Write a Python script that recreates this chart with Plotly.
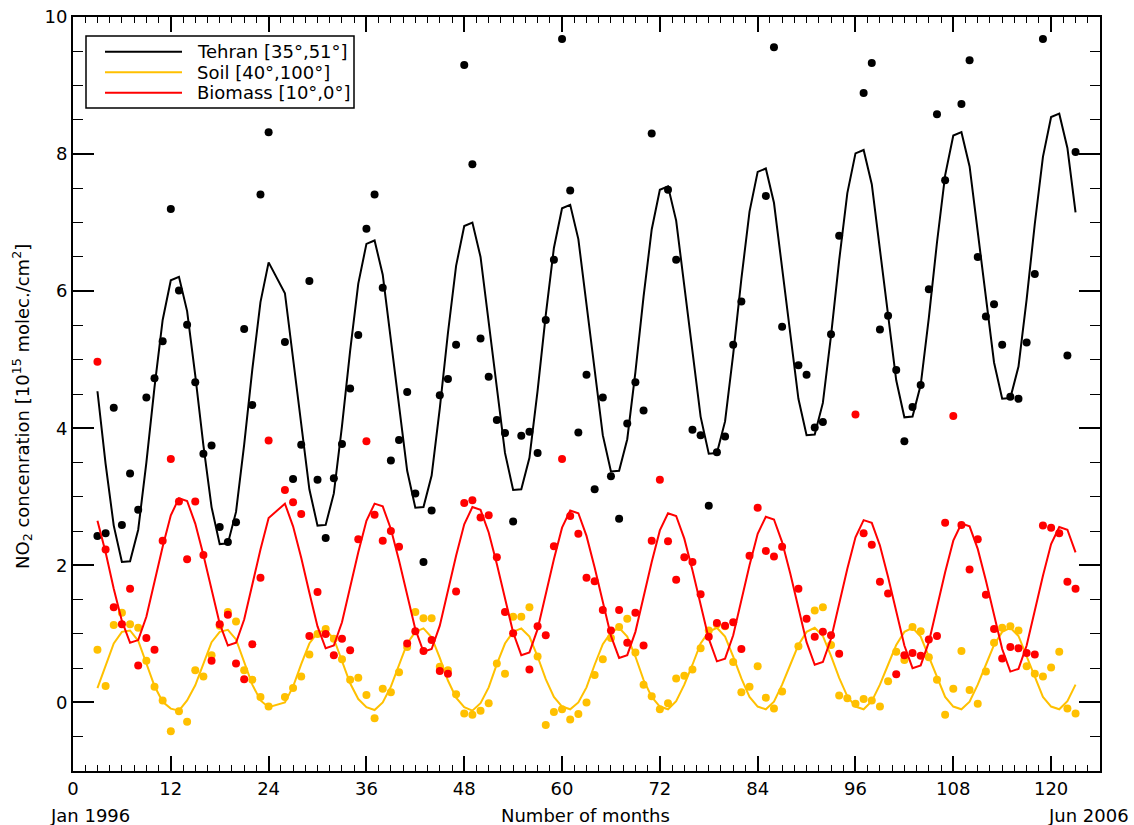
import plotly.graph_objects as go

# months since Jan 1996
months = list(range(3, 124))

# fitted curves, rows: months 3-14, 15-26, ...
tehran_fit = [
    4.54, 3.48, 2.58, 2.05, 2.06, 2.52, 3.50, 4.60, 5.58, 6.16, 6.21, 5.71,
    4.77, 3.75, 2.85, 2.31, 2.32, 2.78, 3.76, 4.86, 5.84, 6.42, None, 5.97,
    5.03, 4.01, 3.11, 2.58, 2.59, 3.05, 4.03, 5.13, 6.11, 6.69, 6.74, 6.24,
    5.30, 4.28, 3.38, 2.84, 2.85, 3.31, 4.29, 5.39, 6.37, 6.95, 7.00, 6.50,
    5.56, 4.54, 3.64, 3.10, 3.11, 3.57, 4.55, 5.65, 6.63, 7.21, 7.26, 6.76,
    5.82, 4.80, 3.90, 3.37, 3.38, 3.84, 4.82, 5.92, 6.90, 7.48, 7.53, 7.03,
    6.09, 5.07, 4.17, 3.63, 3.64, 4.10, 5.08, 6.18, 7.16, 7.74, 7.79, 7.29,
    6.35, 5.33, 4.43, 3.90, 3.91, 4.37, 5.35, 6.45, 7.43, 8.01, 8.06, 7.56,
    6.62, 5.60, 4.70, 4.16, 4.17, 4.63, 5.61, 6.71, 7.69, 8.27, 8.32, 7.82,
    6.88, 5.86, 4.96, 4.43, 4.44, 4.90, 5.88, 6.98, 7.96, 8.54, 8.59, 8.09,
    7.15,
]
soil_fit = [
    0.21, 0.55, 0.86, 1.03, 1.05, 0.90, 0.58, 0.24, 0.01, -0.09, -0.12, 0.03,
    0.25, 0.58, 0.88, 1.03, 1.06, 0.92, 0.60, 0.26, 0.03, -0.07, None, 0.00,
    0.23, 0.56, 0.86, 1.02, 1.06, 0.93, 0.62, 0.28, 0.05, -0.07, -0.11, 0.00,
    0.23, 0.56, 0.86, 1.03, 1.08, 0.95, 0.65, 0.32, 0.07, -0.07, -0.12, -0.01,
    0.22, 0.56, 0.86, 1.03, 1.08, 0.96, 0.67, 0.34, 0.08, -0.06, -0.10, 0.00,
    0.22, 0.55, 0.85, 1.02, 1.09, 0.96, 0.67, 0.33, 0.08, -0.06, -0.10, 0.02,
    0.26, 0.55, 0.86, 1.03, 1.09, 0.96, 0.67, 0.35, 0.08, -0.06, -0.10, 0.01,
    0.26, 0.55, 0.84, 1.03, 1.09, 0.97, 0.68, 0.36, 0.09, -0.06, -0.10, 0.02,
    0.26, 0.55, 0.84, 1.03, 1.09, 0.96, 0.67, 0.36, 0.08, -0.06, -0.10, 0.01,
    0.26, 0.55, 0.84, 1.03, 1.09, 0.97, 0.67, 0.36, 0.08, -0.06, -0.10, 0.02,
    0.26,
]
biomass_fit = [
    2.65, 2.19, 1.66, 1.19, 0.87, 0.91, 1.25, 1.77, 2.27, 2.73, 2.98, 2.94,
    2.61, 2.15, 1.64, 1.15, 0.83, 0.87, 1.21, 1.73, 2.23, 2.69, None, 2.90,
    2.57, 2.11, 1.60, 1.11, 0.79, 0.83, 1.17, 1.69, 2.19, 2.65, 2.90, 2.86,
    2.53, 2.07, 1.56, 1.07, 0.74, 0.78, 1.12, 1.64, 2.14, 2.60, 2.85, 2.81,
    2.48, 2.02, 1.51, 1.02, 0.69, 0.73, 1.07, 1.59, 2.09, 2.55, 2.80, 2.76,
    2.43, 1.97, 1.46, 0.97, 0.65, 0.69, 1.03, 1.55, 2.05, 2.51, 2.76, 2.72,
    2.39, 1.93, 1.42, 0.93, 0.60, 0.64, 0.98, 1.50, 2.00, 2.46, 2.71, 2.67,
    2.34, 1.88, 1.37, 0.88, 0.55, 0.59, 0.93, 1.45, 1.95, 2.41, 2.66, 2.62,
    2.29, 1.83, 1.32, 0.83, 0.50, 0.54, 0.88, 1.40, 1.90, 2.36, 2.61, 2.57,
    2.24, 1.78, 1.27, 0.78, 0.45, 0.49, 0.83, 1.35, 1.85, 2.31, 2.56, 2.52,
    2.19,
]

# monthly observations
tehran_obs = [
    2.43, 2.47, 4.30, 2.59, 3.34, 2.81, 4.45, 4.73, 5.27, 7.20, 6.01, 5.51,
    4.67, 3.63, 3.75, 2.56, 2.34, 2.63, 5.45, 4.34, 7.41, 8.32, None, 5.26,
    3.26, 3.76, 6.15, 3.25, 2.40, 3.27, 3.77, 4.58, 5.36, 6.91, 7.41, 6.05,
    3.53, 3.83, 4.53, 3.05, 2.05, 2.80, 4.48, 4.72, 5.22, 9.30, 7.85, 5.31,
    4.75, 4.12, 3.93, 2.64, 3.89, 3.95, 3.64, 5.58, 6.46, 9.68, 7.47, 3.94,
    4.78, 3.11, 4.45, 3.30, 2.68, 4.07, 4.67, 4.26, 8.30, None, 7.48, 6.46,
    None, 3.98, 3.90, 2.87, 3.65, 3.88, 5.22, 5.85, None, None, 7.39, 9.56,
    5.48, None, 4.92, 4.78, 4.01, 4.09, 5.37, 6.81, None, None, 8.89, 9.33,
    5.44, 5.64, 4.85, 3.81, 4.31, 4.63, 6.03, 8.58, 7.62, None, 8.73, 9.37,
    6.50, 5.63, 5.81, 5.22, 4.46, 4.43, 5.25, 6.25, 9.68, None, None, 5.06,
    8.03,
]
soil_obs = [
    0.77, 0.24, 1.13, 1.31, 1.14, 1.09, 0.61, 0.23, 0.03, -0.42, -0.13, -0.28,
    0.47, 0.38, 0.69, 1.12, 1.32, 1.18, 0.47, 0.33, 0.08, -0.06, None, 0.08,
    0.21, 0.38, 0.70, 1.00, 1.07, 0.93, 0.63, 0.33, 0.36, 0.11, -0.23, 0.20,
    0.15, 0.44, 0.81, 1.32, 1.23, 1.23, 0.52, 0.47, 0.12, -0.16, -0.18, -0.12,
    -0.01, 0.57, 0.42, 1.25, 1.25, 1.39, 0.67, -0.33, -0.14, -0.10, -0.25, -0.17,
    0.00, 0.40, 0.63, 0.94, 1.10, 1.22, 0.73, 0.26, 0.09, -0.10, -0.01, 0.35,
    0.39, 0.48, 0.79, 1.05, 1.14, 1.11, 0.59, 0.15, 0.23, 0.53, 0.07, -0.09,
    0.16, None, 0.82, None, 1.34, 1.39, 0.84, 0.10, 0.06, -0.02, 0.05, 0.03,
    -0.06, 0.31, 0.74, 0.62, 1.10, 1.04, 0.66, 0.33, -0.18, 0.20, 0.75, 0.18,
    -0.02, 0.45, 0.87, 1.09, 1.11, 1.05, 0.53, 0.42, 0.38, 0.51, 0.74, -0.09,
    -0.16,
]
biomass_obs = [
    4.97, 2.23, 1.39, 1.14, 1.66, 0.54, 0.94, 0.77, 2.36, 3.55, 2.93, 2.09,
    2.93, 2.15, 0.61, 1.14, 1.28, 0.57, 0.34, 0.85, 1.82, 3.82, None, 3.10,
    2.92, 2.75, 0.97, 1.61, 1.00, 0.69, 0.93, 0.76, 2.38, 3.81, 2.74, 2.36,
    2.50, 2.27, 0.86, 1.04, 0.75, 0.91, 0.46, 0.42, 1.62, 2.91, 2.95, 2.70,
    2.73, 2.12, 1.32, 1.01, None, 0.48, 1.11, 0.98, 2.28, 3.55, 2.72, 2.46,
    1.82, 1.77, 1.35, 1.05, 1.35, 0.87, 1.31, 0.83, 2.36, 3.25, 2.35, 1.79,
    2.12, 2.05, 1.58, 0.96, 1.16, 1.12, 1.17, 0.78, 2.14, 2.84, 2.21, 2.13,
    2.27, None, 1.66, 1.22, 0.96, 1.03, 0.98, 0.71, None, 4.20, 2.47, 2.30,
    1.76, 1.59, 0.41, 0.69, 0.72, 0.68, 0.92, 0.97, 2.62, 4.18, 2.59, 1.94,
    2.38, 1.57, 1.07, 0.64, 0.81, 0.79, 0.72, 0.70, 2.58, 2.55, 2.47, 1.76,
    1.66,
]

series_names = ["Tehran [35\u00b0,51\u00b0]", "Soil [40\u00b0,100\u00b0]", "Biomass [10\u00b0,0\u00b0]"]
series_colors = ["#000000", "#FFC000", "#FF0000"]
x_tick_vals = [0, 12, 24, 36, 48, 60, 72, 84, 96, 108, 120]
y_tick_vals = [0, 2, 4, 6, 8, 10]

FONT = "DejaVu Sans"
fig = go.Figure()

fits = [tehran_fit, soil_fit, biomass_fit]
obs = [tehran_obs, soil_obs, biomass_obs]
for name, col, f, o in zip(series_names, series_colors, fits, obs):
    fig.add_trace(go.Scatter(x=months, y=o, mode="markers", name=name,
                             marker=dict(color=col, size=8, line=dict(width=0)),
                             showlegend=False, hoverinfo="x+y"))
    fig.add_trace(go.Scatter(x=months, y=f, mode="lines", name=name,
                             line=dict(color=col, width=2), connectgaps=True,
                             showlegend=False))

axis_common = dict(showline=True, linewidth=2, linecolor="black", mirror="allticks",
                   ticks="inside", tickcolor="black", showgrid=False, zeroline=False,
                   tickfont=dict(family=FONT, size=18, color="black"))

fig.update_xaxes(range=[0, 126], tickvals=x_tick_vals, ticklen=15, tickwidth=1.5,
                 minor=dict(dtick=1.5, tick0=0, ticklen=6, tickwidth=1.2, ticks="inside",
                            tickcolor="black", showgrid=False),
                 **axis_common)
fig.update_yaxes(range=[-1, 10], tickvals=y_tick_vals, ticklen=21, tickwidth=1.5,
                 minor=dict(dtick=0.5, tick0=0, ticklen=10, tickwidth=1.2, ticks="inside",
                            tickcolor="black", showgrid=False),
                 **axis_common)

W, H = 1134, 825
L, R, T, B = 73, 34, 17, 54
pw, ph = W - L - R, H - T - B


def px(xp):
    return (xp - L) / pw


def py(yp):
    return (H - B - yp) / ph


shapes = [dict(type="rect", xref="paper", yref="paper", x0=px(86), x1=px(354),
               y0=py(108), y1=py(36), line=dict(color="black", width=1.5),
               fillcolor="white", layer="above")]
annotations = []
row_y = [51.7, 72.3, 92.7]
for name, col, ry in zip(series_names, series_colors, row_y):
    shapes.append(dict(type="line", xref="paper", yref="paper", x0=px(105), x1=px(182),
                       y0=py(ry), y1=py(ry), line=dict(color=col, width=2), layer="above"))
    annotations.append(dict(xref="paper", yref="paper", x=px(195), y=py(ry), text=name,
                            showarrow=False, xanchor="left", yanchor="middle",
                            font=dict(family=FONT, size=18, color="black")))

annotations += [
    dict(xref="paper", yref="paper", x=px(585), y=py(815), text="Number of months",
         showarrow=False, xanchor="center", yanchor="middle",
         font=dict(family=FONT, size=18, color="black")),
    dict(xref="paper", yref="paper", x=px(48), y=py(815), text="Jan 1996",
         showarrow=False, xanchor="left", yanchor="middle",
         font=dict(family=FONT, size=18, color="black")),
    dict(xref="paper", yref="paper", x=px(1131), y=py(815), text="Jun 2006",
         showarrow=False, xanchor="right", yanchor="middle",
         font=dict(family=FONT, size=18, color="black")),
    dict(xref="paper", yref="paper", x=px(22), y=py(407),
         text="NO<sub>2</sub> concenration [10<sup>15</sup> molec./cm<sup>2</sup>]",
         showarrow=False, xanchor="center", yanchor="middle", textangle=-90,
         font=dict(family=FONT, size=18, color="black")),
]

fig.update_layout(width=W, height=H, margin=dict(l=L, r=R, t=T, b=B, autoexpand=False),
                  plot_bgcolor="white", paper_bgcolor="white", showlegend=False,
                  shapes=shapes, annotations=annotations,
                  font=dict(family=FONT, size=18, color="black"))

fig.write_html("out.html", config={"displayModeBar": False},
               post_script="document.body.style.margin='0';")
